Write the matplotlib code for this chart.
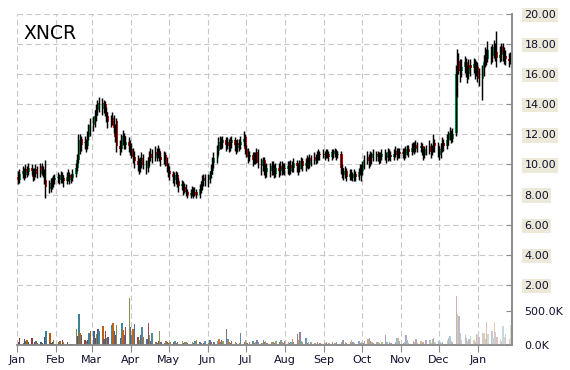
import matplotlib
matplotlib.use("Agg")
import matplotlib.pyplot as plt
import matplotlib.dates as mdates
import numpy as np
import pandas as pd
from matplotlib.colors import to_rgb

ticker = "XNCR"

# daily OHLC (one line per month: Jan 2014 ... Jan 2015)
opens = [
    9.2, 9.0, 9.4, 9.6, 9.3, 9.7, 9.5, 9.8, 9.6, 9.2, 9.5, 9.7, 9.4, 9.9, 9.6, 9.5, 9.0, 8.6, 8.4, 8.8, 8.7, 9.0,
    9.1, 9.2, 9.0, 9.3, 9.1, 8.9, 9.2, 9.3, 9.0, 9.1, 9.4, 9.8, 10.3, 11.0, 11.7, 11.4, 11.5, 11.2, 11.8, 12.2,
    12.6, 12.8, 13.2, 13.6, 13.8, 14.1, 13.7, 14.0, 13.5, 13.2, 12.8, 12.9, 13.1, 12.4, 12.9, 11.2, 11.0, 11.6, 11.9, 11.3, 11.5,
    11.2, 11.0, 10.8, 10.5, 10.2, 10.0, 9.8, 10.1, 10.4, 10.0, 9.8, 10.2, 10.5, 10.7, 10.4, 10.8, 10.6, 10.9, 10.5, 10.3, 10.6, 10.2,
    9.9, 9.6, 9.4, 9.2, 9.0, 9.3, 8.9, 8.6, 8.7, 8.4, 8.5, 8.2, 8.0, 8.1, 8.3, 8.1, 8.2, 8.0, 8.4, 8.6, 8.9, 9.1,
    9.0, 9.0, 9.3, 9.6, 10.1, 10.4, 10.9, 11.3, 11.5, 11.4, 11.6, 11.3, 11.5, 11.2, 11.4, 11.6, 11.3, 11.1, 11.4, 11.3, 11.5,
    11.8, 11.0, 10.8, 10.5, 10.6, 10.3, 10.5, 10.4, 10.8, 10.1, 9.9, 10.3, 9.7, 9.5, 9.8, 9.6, 9.9, 9.7, 9.4, 9.8, 9.6, 9.9, 9.7,
    9.8, 9.7, 9.9, 9.6, 10.0, 9.8, 10.1, 9.9, 9.7, 10.0, 10.2, 9.9, 10.1, 10.3, 10.0, 10.4, 10.2, 10.5, 10.3, 10.6, 10.7,
    10.6, 10.7, 10.6, 10.8, 10.7, 10.5, 10.8, 10.7, 10.9, 10.6, 10.7, 9.8, 9.5, 9.3, 9.6, 9.2, 9.4, 9.3, 9.1, 9.4, 9.2, 9.5,
    9.7, 9.6, 9.9, 10.3, 10.5, 10.2, 10.6, 10.4, 10.7, 10.5, 10.6, 10.3, 10.5, 10.7, 10.6, 10.4, 10.8, 10.6, 10.5, 10.7, 10.9, 10.6, 10.8,
    10.7, 10.8, 10.6, 10.9, 11.0, 10.8, 11.1, 11.2, 11.0, 11.3, 11.1, 11.2, 10.9, 10.6, 10.9, 11.0, 11.2, 10.8, 11.0, 11.4,
    11.2, 10.9, 10.6, 11.0, 11.4, 11.2, 11.6, 11.8, 12.1, 11.7, 12.1, 16.0, 16.6, 16.9, 16.2, 16.5, 16.8, 16.3, 16.0, 16.6, 16.4, 16.7, 16.2,
    16.5, 16.0, 15.7, 16.2, 16.8, 17.3, 17.0, 17.6, 17.2, 17.4, 17.8, 17.5, 17.1, 17.3, 17.9, 17.4, 17.2, 17.0, 16.9,
]
closes = [
    9.0, 9.4, 9.6, 9.3, 9.7, 9.5, 9.8, 9.6, 9.2, 9.5, 9.7, 9.4, 9.9, 9.6, 9.5, 9.0, 8.5, 8.4, 8.8, 8.7, 9.0, 9.1,
    9.2, 9.0, 9.3, 9.1, 8.9, 9.2, 9.3, 9.0, 9.1, 9.4, 9.8, 10.3, 11.0, 11.6, 11.3, 11.5, 11.2, 11.8, 12.3, 12.6,
    12.8, 13.2, 13.6, 13.9, 14.1, 13.7, 14.0, 13.5, 13.2, 12.8, 12.9, 13.1, 12.4, 11.8, 11.2, 11.0, 11.6, 11.9, 11.3, 11.5, 11.2,
    11.0, 10.8, 10.5, 10.2, 10.0, 9.8, 10.1, 10.4, 10.0, 9.8, 10.2, 10.5, 10.7, 10.4, 10.8, 10.6, 10.9, 10.5, 10.3, 10.6, 10.2, 9.9,
    9.6, 9.4, 9.2, 9.0, 9.3, 8.9, 8.6, 8.7, 8.4, 8.5, 8.2, 8.0, 8.1, 8.3, 8.1, 8.2, 8.0, 8.4, 8.6, 8.9, 9.1, 9.0,
    9.0, 9.3, 9.6, 10.2, 10.4, 10.9, 11.3, 11.5, 11.4, 11.6, 11.3, 11.5, 11.2, 11.4, 11.6, 11.3, 11.1, 11.4, 11.3, 11.5, 11.7,
    11.0, 10.8, 10.5, 10.6, 10.3, 10.5, 10.4, 10.8, 10.1, 9.9, 10.3, 9.7, 9.5, 9.8, 9.6, 9.9, 9.7, 9.4, 9.8, 9.6, 9.9, 9.7, 9.8,
    9.7, 9.9, 9.6, 10.0, 9.8, 10.1, 9.9, 9.7, 10.0, 10.2, 9.9, 10.1, 10.3, 10.0, 10.4, 10.2, 10.5, 10.3, 10.6, 10.7, 10.6,
    10.7, 10.6, 10.8, 10.7, 10.5, 10.8, 10.7, 10.9, 10.6, 10.7, 9.8, 9.5, 9.3, 9.6, 9.2, 9.4, 9.3, 9.1, 9.4, 9.2, 9.5, 9.7,
    9.6, 9.9, 10.3, 10.5, 10.2, 10.6, 10.4, 10.7, 10.5, 10.6, 10.3, 10.5, 10.7, 10.6, 10.4, 10.8, 10.6, 10.5, 10.7, 10.9, 10.6, 10.8, 10.7,
    10.8, 10.6, 10.9, 11.0, 10.8, 11.1, 11.2, 11.0, 11.3, 11.1, 11.2, 10.9, 10.6, 10.9, 11.0, 11.2, 10.8, 11.0, 11.4, 11.2,
    10.9, 10.6, 11.0, 11.4, 11.2, 11.6, 11.8, 12.1, 11.7, 12.0, 16.0, 16.6, 16.9, 16.2, 16.5, 16.8, 16.3, 16.0, 16.6, 16.4, 16.7, 16.2, 16.5,
    16.0, 15.7, 16.2, 16.8, 17.3, 17.0, 17.6, 17.2, 17.4, 17.8, 17.5, 17.1, 17.3, 17.9, 17.4, 17.2, 17.0, 16.9, 17.1,
]
highs = [
    9.6, 9.7, 9.9, 9.8, 10.0, 9.9, 10.1, 10.0, 9.8, 9.8, 10.0, 9.9, 10.1, 10.1, 9.9, 9.7, 10.3, 9.0, 9.1, 9.2, 9.3, 9.4,
    9.5, 9.4, 9.6, 9.5, 9.3, 9.5, 9.7, 9.5, 9.4, 9.7, 10.1, 10.7, 12.0, 12.0, 11.9, 11.9, 11.7, 12.2, 12.7, 13.1,
    13.2, 13.6, 14.0, 14.3, 14.5, 14.4, 14.3, 14.2, 13.8, 13.5, 13.3, 13.5, 13.3, 12.7, 13.1, 11.6, 12.0, 12.3, 12.1, 11.9, 11.8,
    11.6, 11.4, 11.1, 10.9, 10.6, 10.4, 10.5, 10.8, 10.7, 10.3, 10.5, 10.9, 11.1, 11.0, 11.2, 11.1, 11.3, 11.1, 10.8, 10.9, 10.8, 10.5,
    10.1, 9.9, 9.6, 9.5, 9.6, 9.5, 9.1, 9.0, 8.9, 8.8, 8.7, 8.4, 8.4, 8.6, 8.5, 8.5, 8.4, 8.7, 8.9, 9.3, 9.4, 9.4,
    9.4, 9.6, 10.0, 10.5, 10.8, 11.3, 11.8, 11.9, 11.8, 11.9, 11.8, 11.8, 11.7, 11.8, 11.9, 11.8, 11.6, 11.7, 11.7, 11.9, 12.2,
    12.0, 11.3, 11.1, 10.9, 10.8, 10.8, 10.8, 11.1, 11.0, 10.4, 10.5, 10.5, 10.0, 10.1, 10.1, 10.2, 10.2, 10.0, 10.1, 10.1, 10.2, 10.2, 10.1,
    10.1, 10.2, 10.2, 10.3, 10.2, 10.4, 10.3, 10.1, 10.3, 10.5, 10.4, 10.4, 10.6, 10.5, 10.7, 10.6, 10.8, 10.7, 10.9, 11.0, 10.9,
    11.0, 10.9, 11.0, 11.0, 10.9, 11.0, 11.0, 11.1, 11.0, 10.9, 10.9, 10.0, 9.8, 9.9, 9.8, 9.7, 9.7, 9.5, 9.7, 9.6, 9.8, 10.0,
    10.0, 10.2, 10.6, 10.9, 10.7, 10.9, 10.8, 11.0, 10.9, 10.9, 10.8, 10.8, 11.0, 11.0, 10.8, 11.1, 11.0, 10.9, 11.0, 11.2, 11.1, 11.1, 11.1,
    11.1, 11.1, 11.2, 11.3, 11.3, 11.4, 11.5, 11.5, 11.6, 11.5, 11.5, 11.4, 11.1, 11.2, 11.3, 11.6, 11.4, 11.3, 12.0, 11.7,
    11.5, 11.2, 11.4, 11.8, 11.7, 12.0, 12.2, 12.5, 12.3, 12.4, 16.6, 17.7, 17.4, 17.0, 17.0, 17.2, 17.1, 16.6, 17.0, 17.0, 17.1, 17.0, 16.9,
    16.8, 16.4, 16.6, 17.3, 17.8, 17.7, 18.2, 17.9, 18.0, 18.3, 18.1, 18.9, 17.9, 18.1, 18.1, 17.8, 17.6, 17.4, 17.5,
]
lows = [
    8.7, 8.8, 9.1, 9.0, 9.1, 9.2, 9.3, 9.3, 8.9, 9.0, 9.2, 9.1, 9.2, 9.3, 9.2, 8.7, 7.8, 8.1, 8.2, 8.4, 8.5, 8.7,
    8.8, 8.7, 8.8, 8.8, 8.5, 8.7, 8.9, 8.7, 8.8, 8.9, 9.2, 9.6, 10.1, 10.7, 10.9, 11.0, 10.8, 11.0, 11.6, 11.9,
    12.2, 12.5, 12.9, 13.3, 13.5, 13.3, 13.4, 13.2, 12.8, 12.4, 12.5, 12.6, 12.1, 11.5, 10.8, 10.6, 10.8, 11.3, 11.0, 11.0, 10.8,
    10.6, 10.4, 10.1, 9.8, 9.6, 9.4, 9.5, 9.8, 9.7, 9.4, 9.5, 9.9, 10.2, 10.1, 10.2, 10.2, 10.4, 10.2, 9.9, 10.0, 9.9, 9.5,
    9.2, 9.0, 8.8, 8.6, 8.7, 8.5, 8.2, 8.3, 8.0, 8.1, 7.9, 7.8, 7.8, 7.9, 7.8, 7.9, 7.8, 7.8, 8.1, 8.3, 8.6, 8.6,
    8.5, 8.8, 9.1, 9.4, 9.8, 10.1, 10.6, 11.0, 11.0, 11.1, 10.9, 11.0, 10.8, 10.9, 11.1, 10.9, 10.7, 10.8, 10.9, 11.0, 11.2,
    10.7, 10.5, 10.1, 10.2, 9.9, 10.0, 10.0, 10.1, 9.8, 9.3, 9.6, 9.3, 9.1, 9.2, 9.2, 9.3, 9.3, 9.1, 9.2, 9.2, 9.3, 9.3, 9.4,
    9.3, 9.4, 9.3, 9.4, 9.5, 9.5, 9.5, 9.3, 9.5, 9.7, 9.6, 9.6, 9.8, 9.7, 9.8, 9.9, 10.0, 10.0, 10.1, 10.3, 10.3,
    10.4, 10.3, 10.4, 10.4, 10.2, 10.3, 10.4, 10.5, 10.3, 10.4, 9.4, 9.1, 9.0, 9.1, 8.9, 9.0, 9.0, 8.9, 8.9, 8.9, 9.0, 9.3,
    8.9, 9.3, 9.7, 10.0, 9.8, 9.9, 10.0, 10.2, 10.2, 10.2, 10.0, 10.1, 10.3, 10.3, 10.1, 10.2, 10.3, 10.2, 10.3, 10.5, 10.3, 10.4, 10.4,
    10.4, 10.3, 10.4, 10.6, 10.5, 10.6, 10.8, 10.7, 10.8, 10.8, 10.8, 10.6, 10.3, 10.4, 10.6, 10.7, 10.4, 10.6, 10.8, 10.8,
    10.5, 10.3, 10.4, 10.8, 10.9, 11.0, 11.3, 11.6, 11.4, 11.5, 11.9, 14.5, 16.0, 15.5, 15.8, 16.1, 15.8, 15.4, 15.7, 15.9, 16.1, 15.7, 15.9,
    15.5, 15.2, 14.3, 15.9, 16.5, 16.6, 16.8, 16.7, 16.8, 17.1, 16.9, 16.5, 16.8, 16.9, 16.9, 16.7, 16.6, 16.5, 16.7,
]
# daily volume, thousands of shares
volumes_k = [
    40, 110, 30, 90, 60, 70, 50, 100, 20, 40, 60, 30, 50, 30, 20, 120, 210, 180, 30, 50, 70, 20,
    40, 60, 20, 70, 50, 40, 10, 10, 20, 15, 240, 130, 460, 170, 140, 70, 60, 80, 180, 200,
    210, 100, 160, 230, 200, 280, 90, 200, 110, 120, 300, 330, 200, 140, 290, 100, 330, 220, 150, 260, 690,
    260, 150, 230, 310, 120, 80, 150, 270, 120, 90, 320, 150, 60, 180, 40, 30, 60, 200, 50, 30, 60, 40,
    30, 50, 40, 60, 30, 40, 20, 60, 30, 40, 50, 30, 20, 40, 30, 60, 70, 40, 30, 20, 30, 60,
    30, 80, 40, 20, 40, 60, 90, 40, 70, 60, 230, 90, 50, 30, 60, 40, 30, 20, 30, 180, 40,
    80, 30, 20, 40, 60, 30, 50, 70, 40, 30, 80, 40, 60, 30, 20, 40, 50, 30, 60, 40, 70, 50, 30,
    60, 40, 30, 50, 90, 40, 160, 80, 190, 60, 40, 110, 30, 50, 20, 40, 30, 20, 40, 20, 30,
    20, 30, 40, 20, 30, 40, 20, 30, 40, 20, 50, 70, 20, 40, 30, 50, 80, 40, 30, 20, 60, 30,
    40, 30, 60, 90, 100, 60, 40, 30, 40, 50, 30, 20, 40, 150, 50, 20, 40, 30, 20, 40, 110, 100, 60,
    30, 40, 140, 70, 30, 20, 60, 40, 90, 30, 60, 40, 50, 20, 80, 70, 30, 90, 100, 40,
    60, 50, 30, 40, 20, 70, 110, 130, 60, 40, 720, 450, 420, 180, 80, 150, 100, 60, 90, 130, 70, 50, 160,
    150, 120, 180, 170, 90, 340, 160, 200, 100, 340, 190, 120, 90, 60, 280, 120, 160, 90, 290,
]

month_labels = ["Jan", "Feb", "Mar", "Apr", "May", "Jun", "Jul", "Aug", "Sep", "Oct", "Nov", "Dec", "Jan"]
price_ticks = [2, 4, 6, 8, 10, 12, 14, 16, 18, 20]
price_tick_labels = ["2.00", "4.00", "6.00", "8.00", "10.00", "12.00", "14.00", "16.00", "18.00", "20.00"]
volume_ticks_k = [0, 500]
volume_tick_labels = ["0.0K", "500.0K"]

# ---------------------------------------------------------------
n = min(len(opens), len(closes), len(highs), len(lows), len(volumes_k))
o = np.array(opens[:n]); c = np.array(closes[:n])
h = np.array(highs[:n]); l = np.array(lows[:n])
v = np.array(volumes_k[:n]) * 1000.0
dates = pd.bdate_range("2014-01-02", periods=n)
x = mdates.date2num(dates.to_pydatetime())

fig = plt.figure(figsize=(5.7, 3.7), dpi=100)
W, H = 570, 370
L, R, T, B = 17, 512, 14, 345
ax = fig.add_axes([L / W, 1 - B / H, (R - L) / W, (B - T) / H])
ax2 = ax.twinx()

grid_col = "#C8C8C8"
axis_col = "#8C8C8C"
dash = (0, (5, 3))

# volume bars (ax2)
base = ["#385D8A", "#8C3836", "#71893F", "#5C4776", "#357D91", "#B65708"]
vcols = []
for i in range(n):
    b = np.array(to_rgb(base[i % len(base)]))
    t = 0.72 * (i / (n - 1)) ** 1.4
    vcols.append(tuple(b * (1 - t) + np.ones(3) * t))
ax2.bar(x, v, width=1.15, color=vcols, linewidth=0, zorder=2)
ax2.set_ylim(0, 500000 * (B - T) / 34.0)
ax2.set_yticks([k * 1000 for k in volume_ticks_k])
ax2.set_yticklabels(volume_tick_labels)

# candles (ax)
up = c >= o
body_lo = np.minimum(o, c)
body_h = np.maximum(np.abs(c - o), 0.06)
ax.bar(x, body_h, bottom=body_lo, width=1.9,
       color=np.where(up, "#00B050", "#FF0000"), linewidth=0, zorder=3)
ax.vlines(x - 0.45, l, h, color="black", linewidth=1.05, zorder=4)

ax.set_ylim(20 - (B - T) / 15.05, 20)
ax.set_yticks(price_ticks)
ax.set_yticklabels(price_tick_labels)
ax.yaxis.tick_right()

month_starts = pd.date_range("2014-01-01", periods=13, freq="MS")
ax.set_xticks(mdates.date2num(month_starts.to_pydatetime()))
ax.set_xticklabels(month_labels)
ax.set_xlim(mdates.date2num(pd.Timestamp("2014-01-01").to_pydatetime()),
            mdates.date2num(pd.Timestamp("2015-01-28").to_pydatetime()))

ax.grid(True, color=grid_col, linestyle=dash, linewidth=0.8, zorder=0)
ax.set_axisbelow(True)
ax2.grid(False)

for a in (ax, ax2):
    for s in ("left", "top"):
        a.spines[s].set_visible(False)
    a.spines["bottom"].set_color(axis_col)
    a.spines["right"].set_color(axis_col)
    a.spines["bottom"].set_linewidth(1.2)
    a.spines["right"].set_linewidth(1.2)

ax.tick_params(axis="y", direction="in", length=4, color=axis_col, pad=9,
               labelsize=8, labelcolor="#101030")
ax2.tick_params(axis="y", direction="in", length=4, color=axis_col, pad=9,
                labelsize=8, labelcolor="#101030")
ax.tick_params(axis="x", direction="out", length=5, color=axis_col, pad=2,
               labelsize=8, labelcolor="#101030")

for lab in ax.get_yticklabels():
    lab.set_bbox(dict(facecolor="#ECE9D8", edgecolor="none", pad=1.5))

ax.text(0.014, (B - 39) / (B - T), ticker, transform=ax.transAxes,
        fontsize=13.5, color="black", ha="left", va="baseline", zorder=6)

fig.savefig("out.png", dpi=100)
